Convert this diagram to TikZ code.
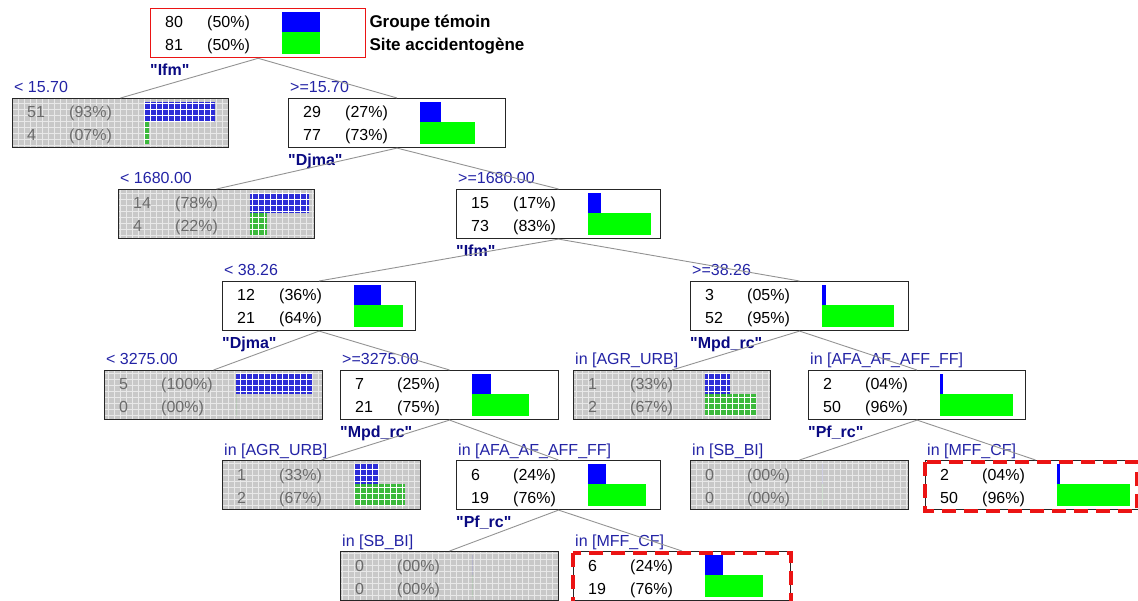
\documentclass[tikz,border=0pt]{standalone}
\usepackage{fontspec}
\setmainfont{Liberation Sans}
\usepackage{tikz}
\usetikzlibrary{patterns.meta}

\definecolor{condblue}{RGB}{35,35,165}
\definecolor{varblue}{RGB}{10,10,130}
\definecolor{leafgray}{RGB}{200,200,200}
\definecolor{leafgrid}{RGB}{232,232,232}
\colorlet{innerblue}{blue}
\colorlet{innergreen}{green}
\colorlet{topblue}{blue}
\colorlet{topgreen}{green}
\definecolor{leafblue}{RGB}{45,45,215}
\definecolor{leafgreen}{RGB}{60,185,60}
\definecolor{hired}{RGB}{235,20,20}

% one box of the tree: name, x, y, width, kind, n1, p1, n2, p2
\newcommand{\treebox}[9]{%
  \node[#5, minimum width=#4pt] (#1) at (#2,#3) {};
  \node[#5txt] (#1-n1) at ([xshift=15pt,yshift=-20pt]#1.north west) {#6};
  \node[#5txt] (#1-p1) at ([xshift=57pt,yshift=-20pt]#1.north west) {(#7\%)};
  \node[#5txt] (#1-n2) at ([xshift=15pt,yshift=-43pt]#1.north west) {#8};
  \node[#5txt] (#1-p2) at ([xshift=57pt,yshift=-43pt]#1.north west) {(#9\%)};
  \fill[#5bar, fill=#5blue] ([xshift=132pt,yshift=-4pt]#1.north west) rectangle ++(0.76*#7,20);
  \fill[#5bar, fill=#5green] ([xshift=132pt,yshift=-24pt]#1.north west) rectangle ++(0.76*#9,22);
}

\begin{document}
\begin{tikzpicture}[x=1pt, y=-1pt,
    every node/.style={font=\fontsize{16}{18}\selectfont},
    inner/.style={draw=black!85, line width=1.1pt, fill=white, minimum height=49pt,
                  inner sep=0pt, anchor=north west},
    leaf/.style={draw=black!85, line width=1.1pt, minimum height=49pt,
                 inner sep=0pt, anchor=north west,
                 preaction={fill=leafgray},
                 preaction={pattern={Hatch[angle=0,distance=6pt,line width=0.5pt]}, pattern color=leafgrid}},
    top/.style={inner, draw=hired, line width=1.3pt},
    innertxt/.style={anchor=base west, inner sep=0pt, text=black},
    leaftxt/.style={innertxt, text=black!58},
    toptxt/.style={innertxt},
    innerbar/.style={},
    topbar/.style={},
    leafbar/.style={postaction={pattern={Hatch[angle=0,distance=6pt,line width=0.5pt]}, pattern color=white, fill opacity=0.22}},
    cond/.style={anchor=base west, inner sep=0pt, text=condblue},
    var/.style={anchor=base west, inner sep=0pt, text=varblue, font=\fontsize{16}{18}\selectfont\bfseries},
    legend/.style={anchor=base west, inner sep=0pt, font=\fontsize{17}{19}\selectfont\bfseries},
    edge/.style={draw=gray!85, line width=0.9pt},
    hilite/.style={draw=hired, line width=3.5pt, dash pattern=on 14pt off 8pt}]
  \useasboundingbox (0,0) rectangle (1138,601);

  \treebox{root}{150}{8}{215}{top}{80}{50}{81}{50}
  \node[legend] (leg1) at ([xshift=3pt,yshift=-20pt]root.north east) {Groupe témoin};
  \node[legend] (leg2) at ([yshift=-23pt]leg1.base west) {Site accidentogène};

  \treebox{l1a}{12}{98}{216}{leaf}{51}{93}{4}{07}
  \treebox{l1b}{288}{98}{217}{inner}{29}{27}{77}{73}
  \treebox{l2a}{118}{189}{196}{leaf}{14}{78}{4}{22}
  \treebox{l2b}{456}{189}{204}{inner}{15}{17}{73}{83}
  \treebox{l3a}{222}{281}{193}{inner}{12}{36}{21}{64}
  \treebox{l3b}{690}{281}{218}{inner}{3}{05}{52}{95}
  \treebox{l4a}{104}{370}{218}{leaf}{5}{100}{0}{00}
  \treebox{l4b}{340}{370}{218}{inner}{7}{25}{21}{75}
  \treebox{l4c}{573}{370}{197}{leaf}{1}{33}{2}{67}
  \treebox{l4d}{808}{370}{217}{inner}{2}{04}{50}{96}
  \treebox{l5a}{222}{460}{198}{leaf}{1}{33}{2}{67}
  \treebox{l5b}{456}{460}{204}{inner}{6}{24}{19}{76}
  \treebox{l5c}{690}{460}{218}{leaf}{0}{00}{0}{00}
  \treebox{l5d}{925}{460}{220}{inner}{2}{04}{50}{96}
  \treebox{l6a}{340}{551}{218}{leaf}{0}{00}{0}{00}
  \treebox{l6b}{573}{551}{217}{inner}{6}{24}{19}{76}

  % split conditions above the boxes
  \foreach \b/\t in {l1a/{< 15.70}, l1b/{>=15.70}, l2a/{< 1680.00}, l2b/{>=1680.00},
                     l3a/{< 38.26}, l3b/{>=38.26}, l4a/{< 3275.00}, l4b/{>=3275.00},
                     l4c/{in [AGR\_URB]}, l4d/{in [AFA\_AF\_AFF\_FF]},
                     l5a/{in [AGR\_URB]}, l5b/{in [AFA\_AF\_AFF\_FF]},
                     l5c/{in [SB\_BI]}, l5d/{in [MFF\_CF]},
                     l6a/{in [SB\_BI]}, l6b/{in [MFF\_CF]}}
    \node[cond] (\b-cond) at ([xshift=2pt,yshift=5pt]\b.north west) {\t};

  % split variables below the boxes
  \foreach \b/\t in {root/Ifm, l1b/Djma, l2b/Ifm, l3a/Djma, l3b/Mpd\_rc,
                     l4b/Mpd\_rc, l4d/Pf\_rc, l5b/Pf\_rc}
    \node[var] (\b-var) at ([yshift=-17pt]\b.south west) {\textquotedbl\t\textquotedbl};

  \foreach \p/\c in {root/l1a, root/l1b, l1b/l2a, l1b/l2b, l2b/l3a, l2b/l3b,
                     l3a/l4a, l3a/l4b, l3b/l4c, l3b/l4d, l4b/l5a, l4b/l5b,
                     l4d/l5c, l4d/l5d, l5b/l6a, l5b/l6b}
    \draw[edge] (\p.south) -- (\c.north);

  \draw[hilite] ([yshift=-2pt]l5d.north west) rectangle ([xshift=-9pt,yshift=-1pt]l5d.south east);
  \draw[hilite] ([yshift=-2pt]l6b.north west) rectangle ([yshift=-2pt]l6b.south east);
\end{tikzpicture}
\end{document}
